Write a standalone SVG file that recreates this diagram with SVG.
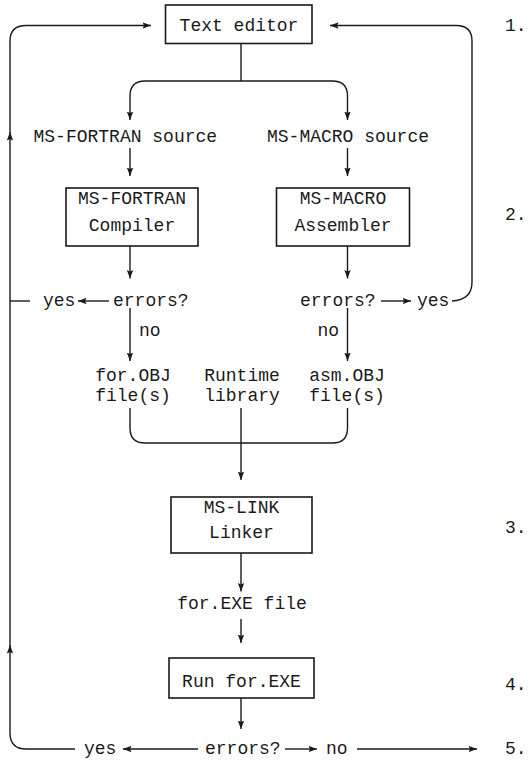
<svg xmlns="http://www.w3.org/2000/svg" width="531" height="762" viewBox="0 0 531 762">
<defs>
<marker id="ah" markerUnits="userSpaceOnUse" markerWidth="10" markerHeight="8" refX="8.5" refY="3.5" orient="auto">
<path d="M0,0.3 L8.5,3.5 L0,6.7 L1.5,3.5 z" fill="#1a1a1a"/>
</marker>
</defs>
<style>
text{font-family:"Liberation Mono","Courier New",monospace;font-size:18px;fill:#1a1a1a}
.c{text-anchor:middle}
.box{fill:#fff;stroke:#1a1a1a;stroke-width:1.6}
.ln{fill:none;stroke:#1a1a1a;stroke-width:1.4}
.ar{fill:none;stroke:#1a1a1a;stroke-width:1.4;marker-end:url(#ah)}
</style>
<rect width="531" height="762" fill="#fff"/>
<g id="connectors">
<path class="ar" d="M75,749 H26 Q10,749 10,733 V645"/>
<path class="ar" d="M10,646 V132"/>
<path class="ar" d="M10,133 V41 Q10,25.5 26,25.5 H151"/>
<path class="ln" d="M10,301 H30"/>
<path class="ar" d="M452,301 Q472,300 472,282 V41 Q472,25.5 456,25.5 H330"/>
<path class="ln" d="M241,44 V81"/>
<path class="ar" d="M241,81 H145 Q130,81 130,96 V120"/>
<path class="ar" d="M241,81 H332.5 Q347.5,81 347.5,96 V120"/>
<path class="ar" d="M130,148 V176"/>
<path class="ar" d="M347.5,148 V176"/>
<path class="ar" d="M130,246 V278.5"/>
<path class="ar" d="M347.5,246 V278.5"/>
<path class="ar" d="M109,301 H78"/>
<path class="ar" d="M381,301 H411"/>
<path class="ar" d="M130,308 V361"/>
<path class="ar" d="M347.5,308 V361"/>
<path class="ln" d="M130,408 V428 Q130,443 145,443 H332.5 Q347.5,443 347.5,428 V408"/>
<path class="ar" d="M241,408 V480"/>
<path class="ar" d="M241,553 V591.5"/>
<path class="ar" d="M241,619 V643"/>
<path class="ar" d="M241,698 V729"/>
<path class="ar" d="M198,749 H123"/>
<path class="ar" d="M285,749 H317"/>
<path class="ar" d="M357,749 H477"/>
</g>
<g id="text-editor"><rect class="box" x="165.5" y="5" width="146.5" height="38.5"/><text class="c" x="239" y="30.5">Text editor</text></g>
<g id="fortran-source"><text x="33.5" y="142">MS-FORTRAN source</text></g>
<g id="macro-source"><text x="267" y="142">MS-MACRO source</text></g>
<g id="fortran-compiler"><rect class="box" x="66" y="188" width="132" height="58"/><text class="c" x="132" y="204">MS-FORTRAN</text><text class="c" x="132" y="231">Compiler</text></g>
<g id="macro-assembler"><rect class="box" x="276.5" y="188" width="133" height="58"/><text class="c" x="343" y="204">MS-MACRO</text><text class="c" x="343" y="231">Assembler</text></g>
<g id="errors-left"><text x="113" y="306">errors?</text><text x="43" y="306">yes</text><text x="139" y="336">no</text></g>
<g id="errors-right"><text x="300" y="306">errors?</text><text x="417" y="306">yes</text><text x="339" y="336" text-anchor="end">no</text></g>
<g id="for-obj"><text class="c" x="133" y="381">for.OBJ</text><text class="c" x="133" y="401">file(s)</text></g>
<g id="runtime"><text class="c" x="242" y="381">Runtime</text><text class="c" x="242" y="401">library</text></g>
<g id="asm-obj"><text class="c" x="347" y="381">asm.OBJ</text><text class="c" x="347" y="401">file(s)</text></g>
<g id="ms-link"><rect class="box" x="171" y="497" width="141" height="56"/><text class="c" x="241.5" y="513">MS-LINK</text><text class="c" x="241.5" y="538">Linker</text></g>
<g id="for-exe"><text class="c" x="242" y="609">for.EXE file</text></g>
<g id="run-exe"><rect class="box" x="169" y="658" width="145" height="40"/><text class="c" x="241.5" y="687">Run for.EXE</text></g>
<g id="errors-bottom"><text x="205" y="754">errors?</text><text x="84" y="754">yes</text><text x="326" y="754">no</text></g>
<g id="steps"><text x="505" y="31">1.</text><text x="505" y="220">2.</text><text x="505" y="533">3.</text><text x="505" y="690">4.</text><text x="505" y="754">5.</text></g>
</svg>
